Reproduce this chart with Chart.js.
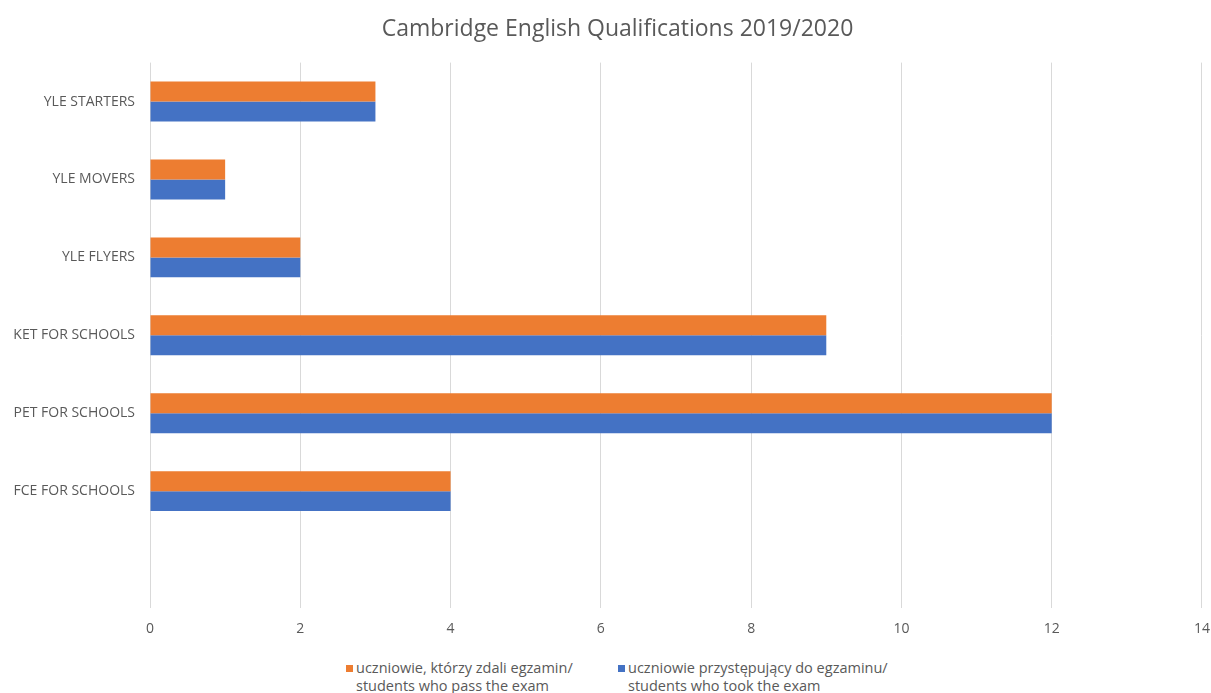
<!DOCTYPE html>
<html>
<head>
<meta charset="utf-8">
<script src="https://cdn.jsdelivr.net/npm/chart.js@4"></script>
<style>
  html, body { margin: 0; padding: 0; background: #fff; overflow: hidden; width: 1211px; height: 693px; }
  #wrap { position: relative; width: 1223px; height: 640px; }
  #legend { position: absolute; top: 659px; left: 0; width: 1211px; font-family: 'Open Sans', 'Noto Sans', sans-serif;
            font-size: 14.5px; line-height: 18px; color: #595959; }
  .item { position: absolute; top: 0; padding-left: 10px; white-space: nowrap; }
  .box { position: absolute; left: 0; top: 6px; width: 7px; height: 7px; }
</style>
</head>
<body>
<div id="wrap"><canvas id="chart"></canvas></div>
<div id="legend"></div>
<script>
// Exam categories (last slot is empty in the original chart)
const categories = ["YLE STARTERS", "YLE MOVERS", "YLE FLYERS", "KET FOR SCHOOLS", "PET FOR SCHOOLS", "FCE FOR SCHOOLS", ""];
const passed = [3, 1, 2, 9, 12, 4, null];
const tookExam = [3, 1, 2, 9, 12, 4, null];
const passedLabel = ["uczniowie, którzy zdali egzamin/", "students who pass the exam"];
const tookLabel = ["uczniowie przystępujący do egzaminu/", "students who took the exam"];
const xTicks = [0, 2, 4, 6, 8, 10, 12, 14];

const FONT = "'Open Sans', 'Noto Sans', sans-serif";
const TEXT = "#595959";

// Builds the two-line legend under the canvas from the chart's legend items
const htmlLegend = {
  id: "htmlLegend",
  afterUpdate(chart) {
    const el = document.getElementById("legend");
    el.innerHTML = "";
    const items = chart.options.plugins.legend.labels.generateLabels(chart);
    const lefts = [346, 618];
    items.forEach((item, i) => {
      const div = document.createElement("div");
      div.className = "item";
      div.style.left = lefts[i] + "px";
      const box = document.createElement("span");
      box.className = "box";
      box.style.background = item.fillStyle;
      div.appendChild(box);
      const lines = chart.data.datasets[item.datasetIndex].label;
      lines.forEach((t, j) => {
        if (j) div.appendChild(document.createElement("br"));
        div.appendChild(document.createTextNode(t));
      });
      el.appendChild(div);
    });
  },
};

const ctx = document.getElementById("chart").getContext("2d");
const chart = new Chart(ctx, {
  type: "bar",
  data: {
    labels: categories,
    datasets: [
      {
        label: passedLabel,
        data: passed,
        backgroundColor: "#ED7D31",
        categoryPercentage: 0.513,
        barPercentage: 1.0,
      },
      {
        label: tookLabel,
        data: tookExam,
        backgroundColor: "#4472C4",
        categoryPercentage: 0.513,
        barPercentage: 1.0,
      },
    ],
  },
  options: {
    indexAxis: "y",
    responsive: true,
    maintainAspectRatio: false,
    animation: false,
    layout: { padding: { left: 12, right: 0, top: 0, bottom: 0 } },
    scales: {
      x: {
        min: 0,
        max: 14,
        afterBuildTicks: (scale) => {
          scale.ticks = xTicks.map((v) => ({ value: v }));
        },
        grid: { color: "#D9D9D9", drawTicks: false },
        border: { display: false },
        ticks: { color: TEXT, padding: 13, font: { family: FONT, size: 14 } },
        afterFit: (scale) => {
          scale.height = 32;
        },
      },
      y: {
        grid: { display: false, drawTicks: false },
        border: { display: false },
        ticks: { color: TEXT, padding: 15, font: { family: FONT, size: 14 } },
        afterFit: (scale) => {
          scale.width = 138;
        },
      },
    },
    plugins: {
      title: {
        display: true,
        text: "Cambridge English Qualifications 2019/2020",
        color: TEXT,
        font: { family: FONT, size: 23, weight: "normal" },
        padding: { top: 16, bottom: 19 },
      },
      legend: { display: false },
      tooltip: { enabled: false },
    },
  },
  plugins: [htmlLegend],
});
</script>
</body>
</html>
